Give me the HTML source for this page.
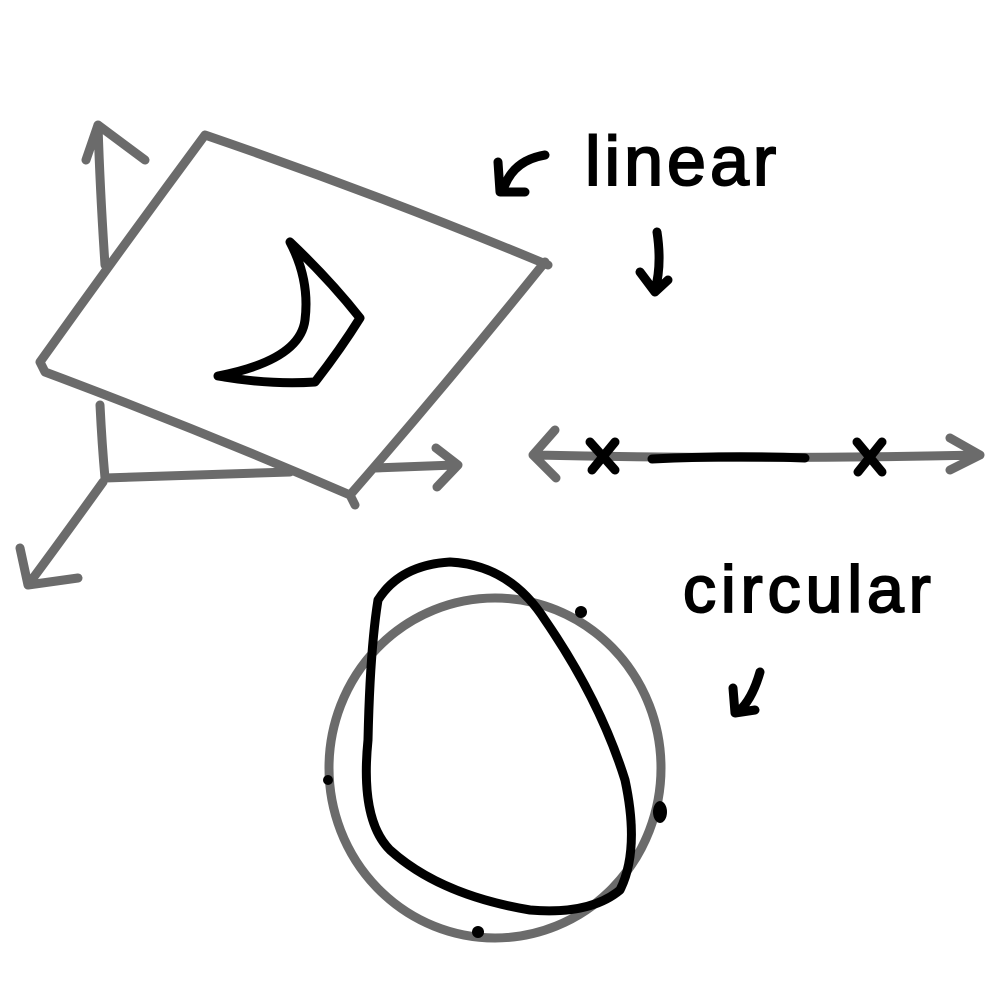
<!DOCTYPE html>
<html><head><meta charset="utf-8"><style>
html,body{margin:0;padding:0;background:#fff;width:1000px;height:1000px;overflow:hidden}
svg{display:block}
</style></head><body>
<svg width="1000" height="1000" viewBox="0 0 1000 1000">
<g fill="none" stroke="#6b6b6b" stroke-width="9" stroke-linecap="round" stroke-linejoin="round">
  <g>
    <path d="M105 265 Q100 190 98 125 M86 160 L98 125 L145 160"/>
    <path d="M100 405 Q102 445 105 478 L290 472 M375 468 L455 465 M436 448 L458 465 L437 487"/>
    <path d="M103 482 Q65 535 28 585 M20 548 L28 585 L78 578"/>
  </g>
  <path d="M205 135 Q380 195 548 265 M545 262 Q450 380 350 495 L355 505 M350 495 Q200 430 45 372 L40 362 Q120 250 205 135"/>
  <g>
    <path d="M535 455 Q760 460 980 455 M555 430 L533 455 L556 478 M950 438 L980 455 L950 470"/>
  </g>
  <ellipse cx="495" cy="768" rx="166" ry="170"/>
</g>
<g fill="none" stroke="#000" stroke-width="9" stroke-linecap="round" stroke-linejoin="round">
  <path d="M290 242 Q330 280 360 318 Q340 350 315 382 Q270 385 218 376 Q300 360 305 320 Q310 280 290 242 Z"/>
  <path d="M590 442 L615 470 M615 442 L592 470"/>
  <path d="M857 442 L882 472 M882 442 L858 472"/>
  <path d="M652 459 Q730 455 805 458"/>
  <path d="M378 600 Q400 565 450 562 Q510 565 545 620 Q600 700 625 780 Q640 850 620 890 Q590 915 530 910 Q440 895 390 850 Q360 820 368 740 Q370 650 378 600 Z"/>
  <path d="M545 155 Q515 160 505 185 M498 162 L500 192 L525 192"/>
  <path d="M657 232 Q662 265 655 290 M640 272 L655 292 L668 280"/>
  <path d="M760 672 Q752 700 738 712 M733 688 L735 713 L755 710"/>
</g>
<g fill="#000">
  <circle cx="581" cy="612" r="6"/>
  <circle cx="328" cy="780" r="5"/>
  <ellipse cx="660" cy="812" rx="7" ry="11"/>
  <circle cx="478" cy="932" r="6"/>
</g>
<text x="585" y="185" font-family="Liberation Sans, sans-serif" font-size="70" fill="#000" stroke="#000" stroke-width="2" style="letter-spacing:4px">linear</text>
<text x="683" y="612" font-family="Liberation Sans, sans-serif" font-size="66" fill="#000" stroke="#000" stroke-width="2" style="letter-spacing:5px">circular</text>
</svg>
</body></html>
